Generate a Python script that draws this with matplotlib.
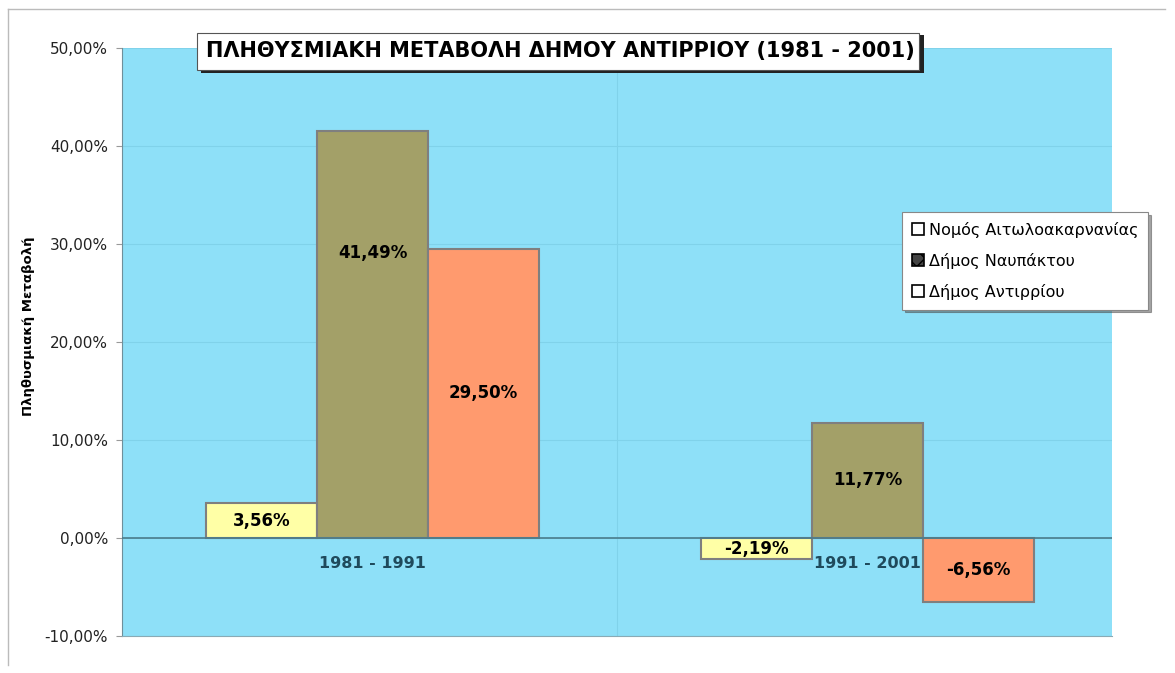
import matplotlib
matplotlib.use("Agg")
import matplotlib.pyplot as plt
import numpy as np
from matplotlib.patches import Patch, Rectangle
from matplotlib.lines import Line2D

plt.rcParams['font.family'] = ['DejaVu Sans']

categories = ["1981 - 1991", "1991 - 2001"]
series_names = ["Νομός Αιτωλοακαρνανίας", "Δήμος Ναυπάκτου", "Δήμος Αντιρρίου"]
nomos = [3.56, -2.19]
nafpaktos = [41.49, 11.77]
antirrio = [29.50, -6.56]
series = [nomos, nafpaktos, antirrio]
colors = ["#FFFFA6", "#A3A068", "#FF9A6E"]
yticks = [-10, 0, 10, 20, 30, 40, 50]
title = "ΠΛΗΘΥΣΜΙΑΚΗ ΜΕΤΑΒΟΛΗ ΔΗΜΟΥ ΑΝΤΙΡΡΙΟΥ (1981 - 2001)"
ylabel = "Πληθυσμιακή Μεταβολή"

def fmt(v):
    return f"{v:.2f}".replace(".", ",") + "%"

fig = plt.figure(figsize=(11.75, 6.73), dpi=100)
fig.patch.set_facecolor("white")
ax = fig.add_axes([122/1175, 1-636/673, (1112-122)/1175, (636-48)/673])
ax.set_facecolor("#8EE0F8")

x = np.arange(len(categories))
w = 0.224
for i, (vals, c) in enumerate(zip(series, colors)):
    pos = x + (i - 1) * w + 0.006
    ax.bar(pos, vals, width=w, color=c, edgecolor="#7F7F7F", linewidth=1.5, zorder=3)
    for p, v in zip(pos, vals):
        ly = v / 2
        if v > 35:
            ly = v * 0.7
        ax.text(p, ly, fmt(v), ha="center", va="center", fontsize=12,
                fontweight="bold", color="black", zorder=4)

ax.set_xlim(-0.5, 1.5)
ax.set_ylim(-10, 50)
ax.set_yticks(yticks)
ax.set_yticklabels([fmt(t) for t in yticks], fontsize=11, color="#222222")
ax.set_xticks([])
for t in yticks:
    ax.axhline(t, color="#80D2EA", linewidth=0.8, zorder=1)
ax.axvline(0.5, color="#80D2EA", linewidth=0.8, zorder=1)
ax.axhline(0, color="#4A7C8C", linewidth=1.2, zorder=3.5)
for s in ["top", "right"]:
    ax.spines[s].set_visible(False)
ax.spines["left"].set_color("#6F8F9A")
ax.spines["bottom"].set_color("#8AAAB5")
ax.tick_params(axis="y", length=4, color="#999999", pad=6)

for xi, cat in zip(x, categories):
    ax.text(xi + 0.006, -2.6, cat, ha="center", va="center", fontsize=11.5,
            fontweight="bold", color="#1F4A5C", zorder=4)

ax.set_ylabel(ylabel, fontsize=9.5, fontweight="bold")
ax.yaxis.set_label_coords(-(122 - 35) / 990, (636 - 326) / 588)

# title box
fig.patches.append(Rectangle((201/1175, 1-73/673), 723/1175, 38/673,
                             transform=fig.transFigure, facecolor="#222222",
                             edgecolor="none", zorder=5))
fig.patches.append(Rectangle((197/1175, 1-70/673), 722/1175, 37/673,
                             transform=fig.transFigure, facecolor="white",
                             edgecolor="#555555", linewidth=0.8, zorder=6))
fig.text(560/1175, 1-51/673, title, ha="center", va="center", fontsize=15,
         fontweight="bold", color="black", zorder=7)

# legend
handles = [Patch(facecolor="white", edgecolor="black", linewidth=1.2),
           Patch(facecolor="#444444", edgecolor="black", hatch="xx", linewidth=1.2),
           Patch(facecolor="white", edgecolor="black", linewidth=1.2)]
leg = fig.legend(handles, series_names, loc="upper left",
                 bbox_to_anchor=(902/1175, 1-212/673), borderaxespad=0,
                 fontsize=11.5, frameon=True, fancybox=False, shadow=True,
                 handlelength=0.8, handleheight=0.8, handletextpad=0.3,
                 labelspacing=0.95, borderpad=0.6)
leg.get_frame().set_edgecolor("#888888")
leg.get_frame().set_linewidth(0.8)

# outer border (top and left)
fig.add_artist(Line2D([8/1175, 1165/1175], [1-9/673, 1-9/673],
                      transform=fig.transFigure, color="#BBBBBB", linewidth=1))
fig.add_artist(Line2D([8/1175, 8/1175], [1-9/673, 1-665/673],
                      transform=fig.transFigure, color="#BBBBBB", linewidth=1))

fig.savefig("out.png", dpi=100, facecolor="white")
